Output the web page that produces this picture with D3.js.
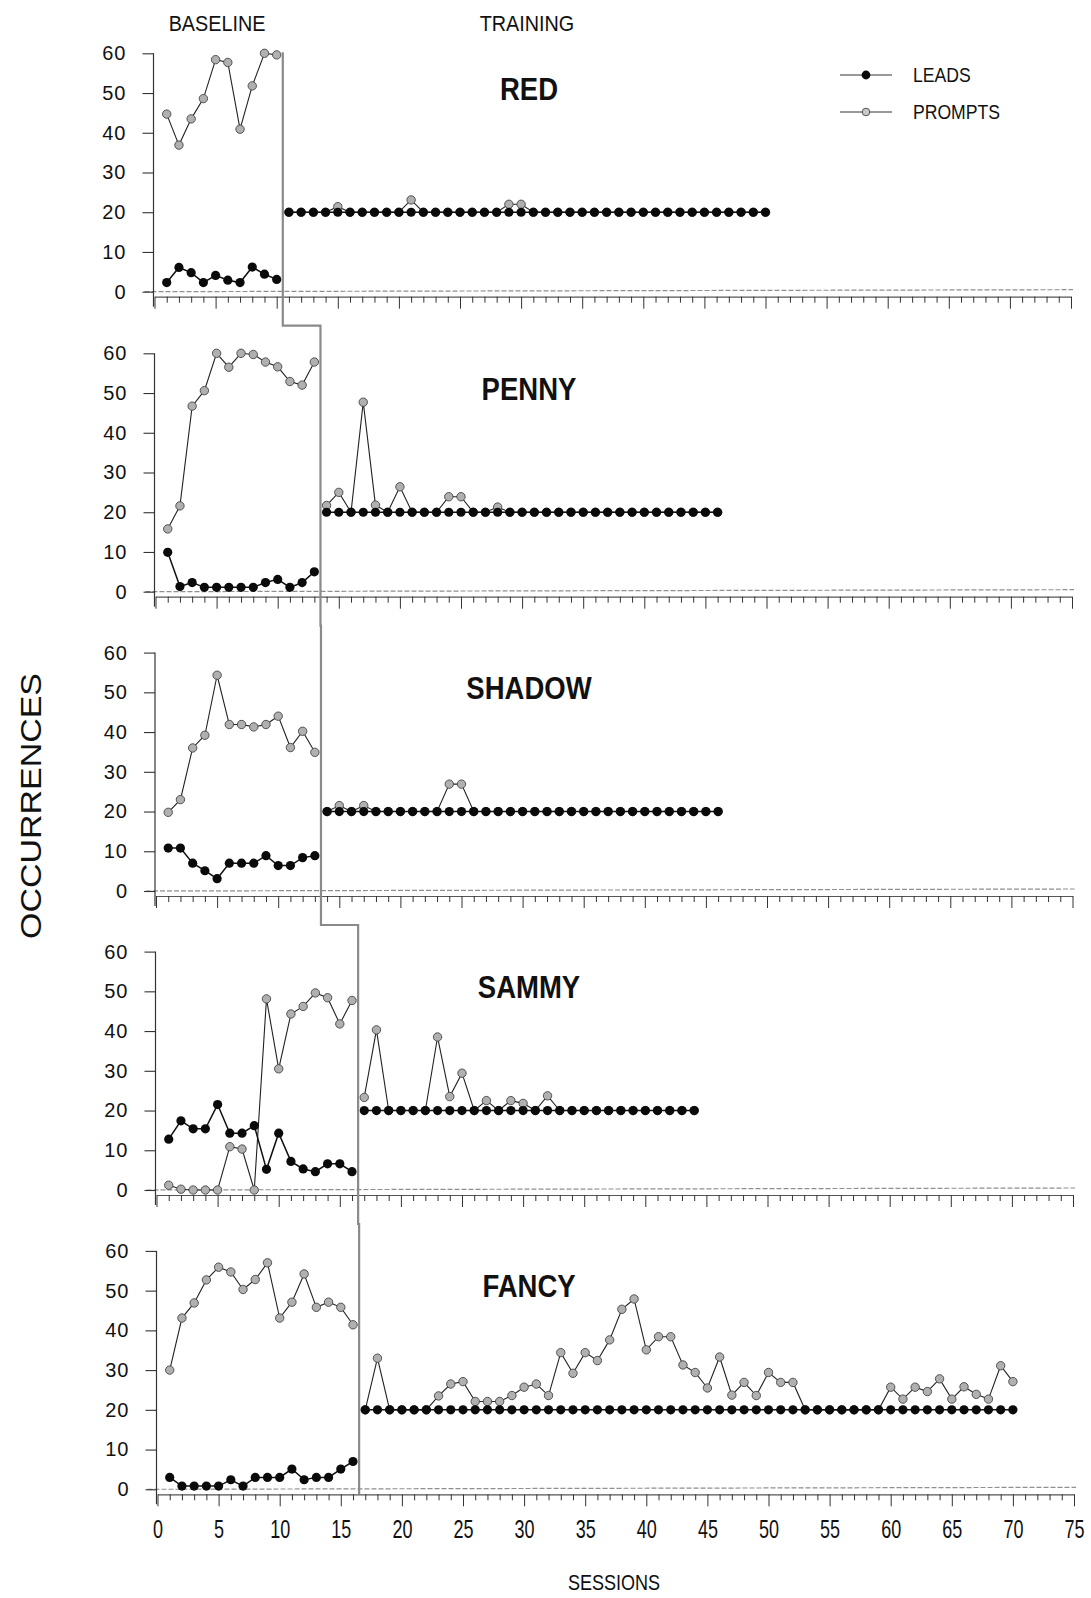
<!DOCTYPE html>
<html><head><meta charset="utf-8">
<script src="https://cdn.jsdelivr.net/npm/d3@7/dist/d3.min.js"></script>
<style>body{margin:0;background:#fff}svg{display:block}</style>
</head><body>
<script>
// ---------- DATA ----------
const subjects = ["RED", "PENNY", "SHADOW", "SAMMY", "FANCY"];
const phaseChange = [10.5, 13.5, 13.5, 16.5, 16.5];
const yTicks = [0, 10, 20, 30, 40, 50, 60];
const xTickLabels = [0, 5, 10, 15, 20, 25, 30, 35, 40, 45, 50, 55, 60, 65, 70, 75];

// RED: baseline sessions 1-10, training 11-50
const redBaseLeads   = [2.3, 6.1, 4.8, 2.3, 4.1, 2.9, 2.3, 6.2, 4.4, 3.1];
const redBasePrompts = [44.7, 36.9, 43.5, 48.6, 58.4, 57.7, 40.9, 51.8, 60, 59.6];
const redTrainLeads  = [20,20,20,20,20,20,20,20,20,20, 20,20,20,20,20,20,20,20,20,20,
                        20,20,20,20,20,20,20,20,20,20, 20,20,20,20,20,20,20,20,20,20];
const redTrainPrompts= [20,20,20,20,21.4,20,20,20,20,20, 23.1,20,20,20,20,20,20,20,22,22,
                        20,20,20,20,20,20,20,20,20,20, 20,20,20,20,20,20,20,20,20,20];

// PENNY: baseline 1-13, training 14-46
const pennyBaseLeads   = [9.9, 1.3, 2.3, 1.1, 1.1, 1.1, 1.1, 1.1, 2.3, 3.1, 1.1, 2.3, 5.0];
const pennyBasePrompts = [15.8, 21.6, 46.7, 50.6, 60, 56.5, 60, 59.7, 57.8, 56.6, 52.9, 52.0, 57.8];
const pennyTrainLeads  = [20,20,20,20,20,20,20,20,20,20, 20,20,20,20,20,20,20,20,20,20,
                          20,20,20,20,20,20,20,20,20,20, 20,20,20];
const pennyTrainPrompts= [21.7,25.0,20,47.7,21.8,20,26.4,20,20,20, 23.9,23.9,20,20,21.3,20,20,20,20,20,
                          20,20,20,20,20,20,20,20,20,20, 20,20,20];

// SHADOW: baseline 1-13, training 14-46
const shadowBaseLeads   = [10.8, 10.8, 7.0, 5.1, 3.1, 7.0, 7.0, 7.0, 8.9, 6.4, 6.4, 8.4, 8.9];
const shadowBasePrompts = [19.8, 23.0, 36.0, 39.2, 54.3, 41.9, 41.9, 41.3, 41.9, 44.0, 36.1, 40.2, 34.9];
const shadowTrainLeads  = [20,20,20,20,20,20,20,20,20,20, 20,20,20,20,20,20,20,20,20,20,
                           20,20,20,20,20,20,20,20,20,20, 20,20,20];
const shadowTrainPrompts= [20,21.5,20,21.5,20,20,20,20,20,20, 26.9,26.9,20,20,20,20,20,20,20,20,
                           20,20,20,20,20,20,20,20,20,20, 20,20,20];

// SAMMY: baseline 1-16, training 17-44
const sammyBaseLeads   = [12.8, 17.4, 15.4, 15.4, 21.5, 14.3, 14.3, 16.2, 5.2, 14.3, 7.2, 5.3, 4.6, 6.6, 6.6, 4.6];
const sammyBasePrompts = [1.2, 0.2, 0, 0, 0, 10.9, 10.3, 0, 48.1, 30.5, 44.3, 46.2, 49.6, 48.4, 41.8, 47.7];
const sammyTrainLeads  = [20,20,20,20,20,20,20,20,20,20, 20,20,20,20,20,20,20,20,20,20,
                          20,20,20,20,20,20,20,20];
const sammyTrainPrompts= [23.3,40.3,20,20,20,20,38.5,23.5,29.4,20, 22.5,20,22.5,21.8,20,23.7,20,20,20,20,
                          20,20,20,20,20,20,20,20];

// FANCY: baseline 1-16, training 17-70
const fancyBaseLeads   = [3.0, 0.8, 0.8, 0.8, 0.8, 2.4, 0.8, 3.0, 3.0, 3.0, 5.1, 2.4, 3.0, 3.0, 5.1, 7.0];
const fancyBasePrompts = [30.0, 43.1, 46.9, 52.7, 55.9, 54.7, 50.3, 52.8, 57.0, 43.1, 47.1, 54.2, 45.8, 47.1, 45.8, 41.4];
const fancyTrainLeads  = [20,20,20,20,20,20,20,20,20,20, 20,20,20,20,20,20,20,20,20,20,
                          20,20,20,20,20,20,20,20,20,20, 20,20,20,20,20,20,20,20,20,20,
                          20,20,20,20,20,20,20,20,20,20, 20,20,20,20];
const fancyTrainPrompts= [20,33.0,20,20,20,20,23.5,26.5,27.1,22.1, 22.1,22.1,23.6,25.7,26.5,23.6,34.4,29.2,34.4,32.4,
                          37.6,45.3,47.9,35.1,38.4,38.4,31.3,29.4,25.5,33.3, 23.7,26.9,23.6,29.4,26.9,26.9,20,20,20,20,
                          20,20,20,25.7,22.7,25.7,24.6,27.8,22.7,25.8, 23.9,22.7,31.1,27.1];

const panels = [
  {name:"RED",    base:[redBaseLeads, redBasePrompts],       train:[redTrainLeads, redTrainPrompts]},
  {name:"PENNY",  base:[pennyBaseLeads, pennyBasePrompts],   train:[pennyTrainLeads, pennyTrainPrompts]},
  {name:"SHADOW", base:[shadowBaseLeads, shadowBasePrompts], train:[shadowTrainLeads, shadowTrainPrompts]},
  {name:"SAMMY",  base:[sammyBaseLeads, sammyBasePrompts],   train:[sammyTrainLeads, sammyTrainPrompts]},
  {name:"FANCY",  base:[fancyBaseLeads, fancyBasePrompts],   train:[fancyTrainLeads, fancyTrainPrompts]}
];

// ---------- LAYOUT ----------
const W = 1091, H = 1598;
const zeroY = [291.7, 591.7, 891, 1190, 1489.3];
const panelDX = [0, 1, 1.5, 2, 3];
const plotH = 238.4;
const FONT = "'Liberation Sans', Arial, Helvetica, sans-serif";

const svg = d3.select("body").append("svg").attr("width", W).attr("height", H)
  .style("font-family", FONT);

function condText(g, x, y, txt, size, sx, weight, anchor) {
  return g.append("text")
    .attr("transform", `translate(${x},${y}) scale(${sx},1)`)
    .attr("text-anchor", anchor || "middle")
    .attr("font-size", size)
    .attr("font-weight", weight || "normal")
    .attr("fill", "#111")
    .text(txt);
}

// Header labels
condText(svg, 217, 31, "BASELINE", 22, 0.9);
condText(svg, 527, 31, "TRAINING", 22, 0.9);

const xScales = [];
panels.forEach((p, i) => {
  const z = zeroY[i], dx = panelDX[i];
  const x = d3.scaleLinear().domain([0, 75]).range([154.5 + dx, 1071 + dx]);
  const y = d3.scaleLinear().domain([0, 60]).range([z, z - plotH]);
  xScales.push(x);
  const g = svg.append("g");

  // zero reference line (grey dashed)
  g.append("line").attr("x1", x(0) - 10).attr("x2", x(75) + 2)
    .attr("y1", y(0)).attr("y2", y(0) - 2)
    .attr("stroke", "#8f8f8f").attr("stroke-width", 1.2).attr("stroke-dasharray", "5,2");

  // y axis
  const ya = g.append("g").attr("transform", `translate(${x(0) - 1},0)`)
    .call(d3.axisLeft(y).tickValues(yTicks).tickSize(11).tickPadding(16).tickSizeOuter(0));
  ya.select(".domain").attr("stroke", "#333").attr("stroke-width", 1.2)
    .attr("d", `M0,${y(60)}V${y(0) + 15}`);
  ya.selectAll(".tick line").attr("stroke", "#333").attr("stroke-width", 1.1);
  ya.selectAll(".tick text").attr("font-size", 20).attr("fill", "#111")
    .attr("letter-spacing", "1px").attr("font-family", FONT);

  // x axis
  const xa = g.append("g").attr("transform", `translate(0,${y(0) + 5})`)
    .call(d3.axisBottom(x).tickValues(d3.range(0, 76)).tickSize(6).tickSizeOuter(0)
      .tickFormat(d => (i === 4 && xTickLabels.includes(d)) ? String(d) : ""));
  xa.select(".domain").attr("stroke", "#555").attr("stroke-width", 1.2);
  xa.selectAll(".tick line").attr("stroke", "#333").attr("stroke-width", 1)
    .attr("y2", d => d % 5 === 0 ? 12 : 6);
  xa.selectAll(".tick text").attr("font-size", 25).attr("fill", "#111")
    .attr("font-family", FONT).attr("y", 26)
    .attr("transform", "scale(0.72,1)");

  // data
  const line = d3.line().x(d => x(d.s)).y(d => y(d.v));
  const segs = [
    {start: 1, arr: p.base},
    {start: Math.ceil(phaseChange[i]), arr: p.train}
  ];
  segs.forEach(seg => {
    const leads = seg.arr[0].map((v, k) => ({s: seg.start + k, v}));
    const prompts = seg.arr[1].map((v, k) => ({s: seg.start + k, v}));
    g.append("path").datum(prompts).attr("d", line).attr("fill", "none")
      .attr("stroke", "#222").attr("stroke-width", 1.1);
    g.selectAll(null).data(prompts).enter().append("circle")
      .attr("cx", d => x(d.s)).attr("cy", d => y(d.v)).attr("r", 4.2)
      .attr("fill", "#b0b0b0").attr("stroke", "#444").attr("stroke-width", 0.9);
    g.append("path").datum(leads).attr("d", line).attr("fill", "none")
      .attr("stroke", "#111").attr("stroke-width", 1.5);
    g.selectAll(null).data(leads).enter().append("circle")
      .attr("cx", d => x(d.s)).attr("cy", d => y(d.v)).attr("r", 4.6)
      .attr("fill", "#0a0a0a");
  });

  // subject title
  condText(g, 529, z - 192, p.name, 32, 0.86, "bold");
});

// phase-change step line
const stepPts = [];
phaseChange.forEach((pc, i) => {
  const x = xScales[i];
  if (i === 0) stepPts.push([x(pc), zeroY[0] - plotH - 1]);
  else stepPts.push([x(pc), zeroY[i - 1] + 34]);
  if (i < phaseChange.length - 1) stepPts.push([x(pc), zeroY[i] + 34]);
  else stepPts.push([x(pc), zeroY[i] + 5]);
});
svg.append("path").attr("d", d3.line()(stepPts)).attr("fill", "none")
  .attr("stroke", "#8a8a8a").attr("stroke-width", 2.2);

// legend
const lg = svg.append("g");
[["LEADS", 75, true], ["PROMPTS", 112, false]].forEach(([t, ly, filled]) => {
  lg.append("line").attr("x1", 840).attr("x2", 892).attr("y1", ly).attr("y2", ly)
    .attr("stroke", "#333").attr("stroke-width", 1);
  lg.append("circle").attr("cx", 866).attr("cy", ly).attr("r", filled ? 4.4 : 3.8)
    .attr("fill", filled ? "#0a0a0a" : "#c8c8c8").attr("stroke", filled ? "none" : "#444")
    .attr("stroke-width", 0.9);
  condText(lg, 913, ly + 7, t, 20, 0.88, "normal", "start");
});

// axis titles
svg.append("text").attr("transform", "translate(41,806) rotate(-90)")
  .attr("text-anchor", "middle").attr("font-size", 30).attr("fill", "#111")
  .attr("font-family", FONT).attr("textLength", 266).attr("lengthAdjust", "spacingAndGlyphs")
  .text("OCCURRENCES");
condText(svg, 614, 1590, "SESSIONS", 22, 0.82);
</script>
</body></html>
